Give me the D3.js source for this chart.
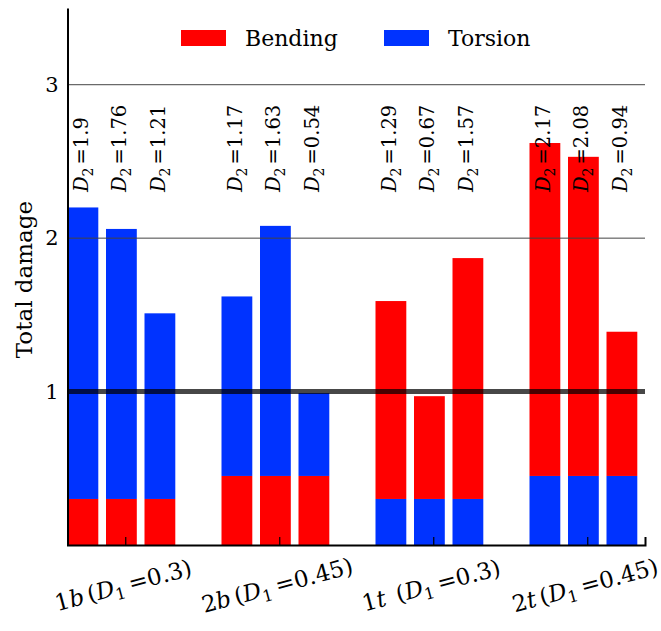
<!DOCTYPE html>
<html>
<head>
<meta charset="utf-8">
<script src="https://cdn.jsdelivr.net/npm/d3@7"></script>
<style>
  body { margin: 0; background: #fff; }
  svg text { font-family: "DejaVu Serif", "Liberation Serif", serif; fill: #000; }
</style>
</head>
<body>
<div id="chart"></div>
<script>
// data
var groups = ["1b", "2b", "1t", "2t"];
var d1Values = [0.3, 0.45, 0.3, 0.45];
var baseType = ["Bending", "Bending", "Torsion", "Torsion"];   // lower segment
var d2Values = [
  [1.9, 1.76, 1.21],
  [1.17, 1.63, 0.54],
  [1.29, 0.67, 1.57],
  [2.17, 2.08, 0.94]
];
var yTicks = [1, 2, 3];
var legendKeys = ["Bending", "Torsion"];

var svgWidth = 661;
var svgHeight = 631;
var margin = { top: 8, right: 16, bottom: 86, left: 67.5 };
var width = svgWidth - margin.left - margin.right;
var height = svgHeight - margin.top - margin.bottom;

var color = { Bending: "#ff0000", Torsion: "#0033ff" };

var svg = d3.select("#chart")
  .append("svg")
  .attr("width", svgWidth)
  .attr("height", svgHeight);

var chartGroup = svg.append("g")
  .attr("transform", `translate(${margin.left}, ${margin.top})`);

// x positions: 3 bars per group, one empty slot between groups
var xScale = d3.scaleLinear().domain([-0.4, 14.6]).range([0, width]);
var yScale = d3.scaleLinear().domain([0, 3.5]).range([height, 0]);
var barW = xScale(0.8) - xScale(0);

// flatten into segments
var bars = [];
groups.forEach(function(g, gi) {
  d2Values[gi].forEach(function(d2, j) {
    var pos = gi * 4 + j;
    var lower = baseType[gi];
    var upper = lower === "Bending" ? "Torsion" : "Bending";
    bars.push({ pos: pos, y0: 0, y1: d1Values[gi], type: lower });
    bars.push({ pos: pos, y0: d1Values[gi], y1: d1Values[gi] + d2, type: upper, d2: d2 });
  });
});

chartGroup.selectAll("rect.bar")
  .data(bars)
  .enter()
  .append("rect")
  .attr("class", "bar")
  .attr("x", d => xScale(d.pos - 0.4))
  .attr("width", barW)
  .attr("y", d => yScale(d.y1))
  .attr("height", d => yScale(d.y0) - yScale(d.y1))
  .attr("fill", d => color[d.type]);

// grid lines at 2 and 3, thick line at 1
chartGroup.selectAll("line.grid")
  .data(yTicks.filter(t => t !== 1))
  .enter()
  .append("line")
  .attr("x1", 0)
  .attr("x2", width)
  .attr("y1", d => yScale(d))
  .attr("y2", d => yScale(d))
  .attr("stroke", "#444")
  .attr("stroke-width", 1);

chartGroup.append("line")
  .attr("x1", 0)
  .attr("x2", width)
  .attr("y1", yScale(1))
  .attr("y2", yScale(1))
  .attr("stroke", "#000")
  .attr("stroke-opacity", 0.72)
  .attr("stroke-width", 5);

// D2 annotations
var notes = chartGroup.selectAll("text.note")
  .data(bars.filter(d => d.d2 !== undefined))
  .enter()
  .append("text")
  .attr("class", "note")
  .attr("transform", d => `translate(${xScale(d.pos) + 5}, ${yScale(2.3)}) rotate(-90)`)
  .style("font-size", "19.5px");
notes.append("tspan").style("font-style", "italic").text("D");
notes.append("tspan").attr("dy", 5).style("font-size", "14px").text("2");
notes.append("tspan").attr("dy", -5).attr("dx", 3).text(d => "=" + d.d2);

// axes
var yAxis = d3.axisLeft(yScale).tickValues(yTicks).tickSize(0).tickPadding(9).tickFormat(d3.format("d"));
var yAxisG = chartGroup.append("g").call(yAxis);
yAxisG.select(".domain").attr("stroke", "#000").attr("stroke-width", 2);
yAxisG.selectAll("text").style("font-size", "21px");

var xAxis = d3.axisBottom(xScale).tickValues([1.1, 5.1, 9.1, 13.1]).tickSize(-8).tickFormat("");
var xAxisG = chartGroup.append("g")
  .attr("transform", `translate(0, ${height})`)
  .call(xAxis);
xAxisG.select(".domain").attr("stroke", "#000").attr("stroke-width", 2);
xAxisG.selectAll(".tick line").attr("stroke", "#000").attr("stroke-width", 1.2);

// rotated group labels
var xLabels = chartGroup.selectAll("text.xlab")
  .data(groups)
  .enter()
  .append("text")
  .attr("class", "xlab")
  .attr("text-anchor", "middle")
  .attr("transform", (d, i) => `translate(${xScale(i * 4 + 1.1)}, ${height + 48}) rotate(-15)`)
  .style("font-size", "23px");
xLabels.append("tspan").text(d => d[0]);
xLabels.append("tspan").style("font-style", "italic").text(d => d[1]);
xLabels.append("tspan").attr("dx", (d, i) => i === 2 ? 11 : 4).text("(");
xLabels.append("tspan").style("font-style", "italic").text("D");
xLabels.append("tspan").attr("dy", 5).style("font-size", "16px").text("1");
xLabels.append("tspan").attr("dy", -5).attr("dx", 5).text((d, i) => "=" + d1Values[i] + ")");

// y axis title
chartGroup.append("text")
  .attr("transform", `translate(${24 - margin.left}, ${yScale(1.73)}) rotate(-90)`)
  .attr("text-anchor", "middle")
  .attr("dy", "0.35em")
  .style("font-size", "23px")
  .text("Total damage");

// legend
var legend = svg.selectAll("g.legend")
  .data(legendKeys)
  .enter()
  .append("g")
  .attr("class", "legend")
  .attr("transform", (d, i) => `translate(${181 + i * 203}, 30)`);
legend.append("rect")
  .attr("width", 45)
  .attr("height", 16)
  .attr("fill", d => color[d]);
legend.append("text")
  .attr("x", 64)
  .attr("y", 16)
  .style("font-size", "22px")
  .text(d => d);
</script>
</body>
</html>
